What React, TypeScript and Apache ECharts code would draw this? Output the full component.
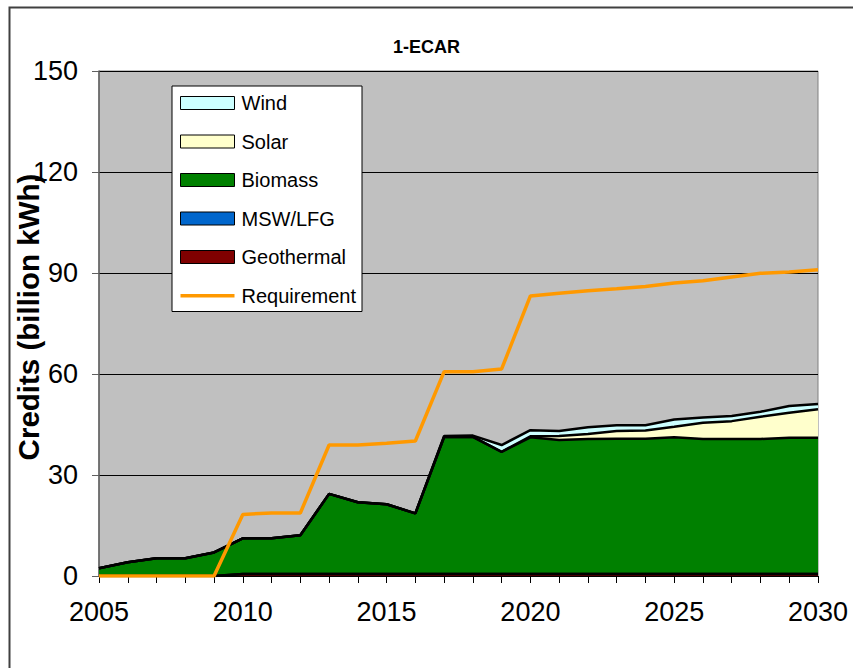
import React, { useEffect, useRef } from "react";
import * as echarts from "echarts";

// Years on the category axis
const years = [
  "2005", "2006", "2007", "2008", "2009", "2010", "2011", "2012", "2013",
  "2014", "2015", "2016", "2017", "2018", "2019", "2020", "2021", "2022",
  "2023", "2024", "2025", "2026", "2027", "2028", "2029", "2030",
];

// Credits by resource (billion kWh), stacked bottom to top
const geothermal = [0, 0, 0, 0, 0, 0.6, 0.6, 0.6, 0.6, 0.6, 0.6, 0.6, 0.6, 0.6, 0.6, 0.6, 0.6, 0.6, 0.6, 0.6, 0.6, 0.6, 0.6, 0.6, 0.6, 0.6];
const mswLfg = [0, 0, 0, 0, 0, 0, 0, 0, 0, 0, 0, 0, 0, 0, 0, 0, 0, 0, 0, 0, 0, 0, 0, 0, 0, 0];
const biomass = [2.3, 4.1, 5.3, 5.3, 7.0, 10.6, 10.6, 11.5, 23.8, 21.3, 20.7, 18.0, 40.7, 40.7, 36.3, 40.6, 39.8, 40.1, 40.2, 40.2, 40.6, 40.1, 40.1, 40.1, 40.5, 40.5];
const solar = [0, 0, 0, 0, 0, 0, 0, 0, 0, 0, 0, 0, 0, 0, 0, 0.3, 1.2, 1.5, 2.3, 2.4, 3.1, 4.8, 5.3, 6.6, 7.4, 8.4];
const wind = [0, 0, 0, 0, 0, 0, 0, 0, 0, 0, 0, 0, 0.3, 0.4, 2.0, 1.8, 1.5, 2.0, 1.7, 1.6, 2.2, 1.6, 1.5, 1.5, 2.0, 1.6];

// Requirement (billion kWh)
const requirement = [0, 0, 0, 0, 0, 18.3, 18.7, 18.7, 38.9, 38.9, 39.4, 40.1, 60.7, 60.7, 61.5, 83.2, 84.0, 84.7, 85.3, 86.0, 87.0, 87.7, 88.8, 89.9, 90.3, 91.0];

const FONT = "'Liberation Sans', Arial, sans-serif";

// Legend line icon for the requirement: a 3px bar inside a 54x13 box
const LINE_ICON = "path://M0,0 M54,13 M0,5 L54,5 L54,8.5 L0,8.5 Z";

function areaSeries(name: string, data: number[], fill: string) {
  return {
    name,
    type: "line",
    stack: "total",
    data,
    symbol: "none",
    itemStyle: { color: fill },
    lineStyle: { color: "#000", width: 2.5 },
    areaStyle: { color: fill, opacity: 1 },
    z: 2,
  };
}

export default function App() {
  const ref = useRef<HTMLDivElement>(null);

  useEffect(() => {
    if (!ref.current) return;
    const chart = echarts.init(ref.current, undefined, { renderer: "svg" });
    const legendBorder = { borderColor: "#000", borderWidth: 1 };
    chart.setOption({
      animation: false,
      backgroundColor: "#fff",
      textStyle: { fontFamily: FONT },
      title: {
        text: "1-ECAR",
        left: "center",
        top: 33,
        textStyle: { fontFamily: FONT, fontSize: 18, fontWeight: "bold", color: "#000" },
      },
      graphic: [
        {
          type: "rect",
          left: 7,
          top: 5,
          shape: { width: 900, height: 700 },
          style: { fill: "none", stroke: "#404040", lineWidth: 2 },
          silent: true,
        },
        {
          type: "text",
          x: 28,
          y: 317,
          rotation: Math.PI / 2,
          style: {
            text: "Credits (billion kWh)",
            fontFamily: FONT,
            fontSize: 29.5,
            fontWeight: "bold",
            fill: "#000",
            align: "center",
            verticalAlign: "middle",
          },
          silent: true,
        },
      ],
      legend: {
        orient: "vertical",
        left: 172,
        top: 86,
        padding: [7, 6, 6, 8],
        itemGap: 18.5,
        itemWidth: 54,
        itemHeight: 13,
        backgroundColor: "#fff",
        borderColor: "#000",
        borderWidth: 1,
        selectedMode: false,
        textStyle: { fontFamily: FONT, fontSize: 20, color: "#000", padding: [0, 0, 0, 2] },
        data: [
          { name: "Wind", icon: "rect", itemStyle: legendBorder },
          { name: "Solar", icon: "rect", itemStyle: legendBorder },
          { name: "Biomass", icon: "rect", itemStyle: legendBorder },
          { name: "MSW/LFG", icon: "rect", itemStyle: legendBorder },
          { name: "Geothermal", icon: "rect", itemStyle: legendBorder },
          { name: "Requirement", icon: LINE_ICON, itemStyle: { color: "#FF9900", borderWidth: 0 } },
        ],
      },
      grid: {
        left: 99,
        right: 35,
        top: 71,
        bottom: 92,
        show: true,
        backgroundColor: "#C0C0C0",
        borderColor: "#808080",
        borderWidth: 1,
      },
      xAxis: {
        type: "category",
        data: years,
        boundaryGap: false,
        axisLine: { lineStyle: { color: "#000", width: 1 } },
        axisTick: { show: true, interval: 0, length: 7, lineStyle: { color: "#000" } },
        axisLabel: {
          interval: 4,
          fontSize: 27,
          color: "#000",
          fontFamily: FONT,
          margin: 22,
        },
        splitLine: { show: false },
      },
      yAxis: {
        type: "value",
        min: 0,
        max: 150,
        interval: 30,
        axisLine: { show: true, lineStyle: { color: "#606060", width: 1.5 } },
        axisTick: { show: true, length: 7, lineStyle: { color: "#606060" } },
        axisLabel: { fontSize: 27, color: "#000", fontFamily: FONT, margin: 21 },
        splitLine: { show: true, lineStyle: { color: "#000", width: 1 } },
      },
      series: [
        areaSeries("Geothermal", geothermal, "#800000"),
        areaSeries("MSW/LFG", mswLfg, "#0066CC"),
        areaSeries("Biomass", biomass, "#008000"),
        areaSeries("Solar", solar, "#FFFFCC"),
        areaSeries("Wind", wind, "#CCFFFF"),
        {
          name: "Requirement",
          type: "line",
          data: requirement,
          symbol: "none",
          itemStyle: { color: "#FF9900" },
          lineStyle: { color: "#FF9900", width: 3.5 },
          z: 5,
        },
      ],
    });
    return () => chart.dispose();
  }, []);

  return (
    <div
      ref={ref}
      style={{ position: "fixed", left: 0, top: 0, width: 853, height: 668 }}
    />
  );
}
